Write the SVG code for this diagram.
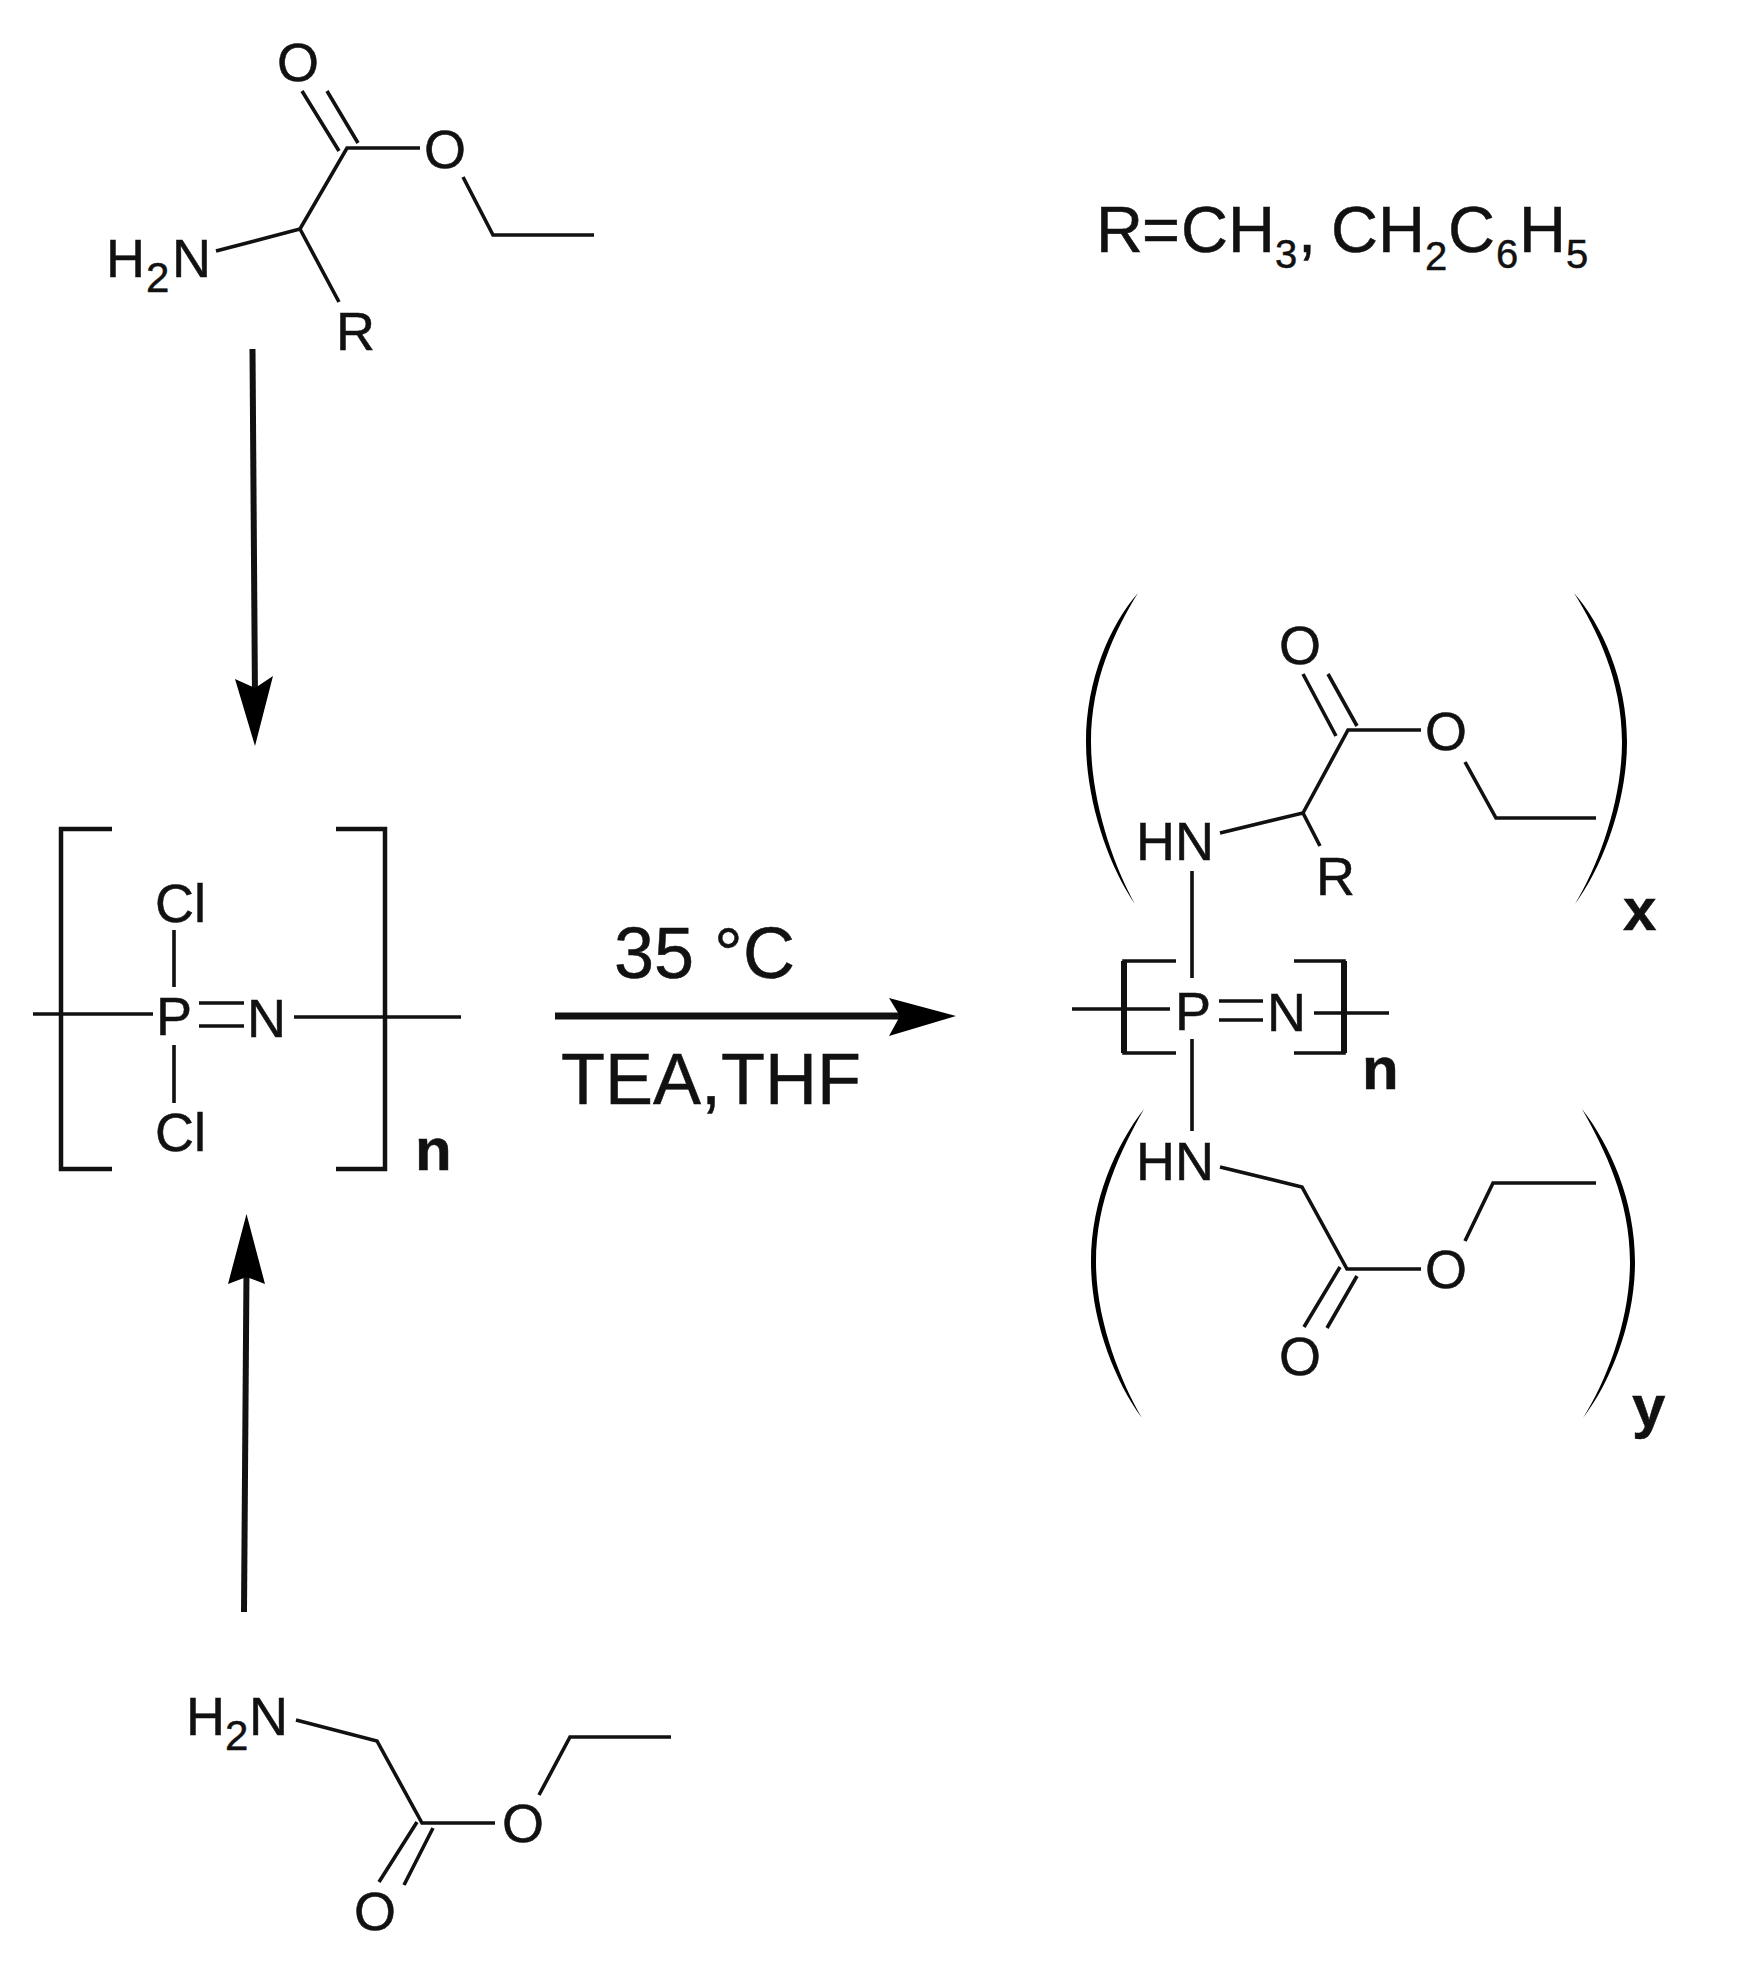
<svg xmlns="http://www.w3.org/2000/svg" width="1739" height="1975" viewBox="0 0 1739 1975">
<style>
text{font-family:"Liberation Sans",Arial,sans-serif;fill:#111;stroke:#111;stroke-width:.5px}
.a{font-size:54px}
.s{font-size:42px}
.t{font-size:72px}
.f{font-size:65px}
.fs{font-size:40px}
.b{font-size:60px;font-weight:700}
.m{text-anchor:middle}
.l{fill:none;stroke:#111;stroke-width:3.6}
.th{stroke-width:4.5}
.tk{stroke-width:6}
.w{stroke-width:6}
.hz{stroke-width:7}
.h{fill:#000;stroke:none}
</style>
<rect width="1739" height="1975" fill="#fff"/>
<g id="connectors">
<path class="l w" d="M252.500 349L255 700"/>
<path class="h" d="M255 746L235 679L255 688L273 676Z"/>
<path class="l w" d="M244 1612L246.500 1270"/>
<path class="h" d="M246.500 1214L228 1284L246.500 1277L265 1284Z"/>
<path class="l hz" d="M555 1016H900"/>
<path class="h" d="M956 1016L889 998L900 1016L889 1036Z"/>
</g>
<g id="reactant-top">
<path class="l" d="M302 91L339 151M327 91L358 143M420 148H347L300 229L216 251M300 229L339 302M463 177L493 235H594"/>
<text class="a m" x="298" y="81">O</text>
<text class="a m" x="445" y="168">O</text>
<text class="a" x="106" y="277">H</text>
<text class="s" x="146" y="292">2</text>
<text class="a" x="172" y="277">N</text>
<text class="a" x="336" y="350">R</text>
</g>
<g id="formula-note">
<text class="f" y="252"><tspan x="1096">R</tspan><tspan x="1142">=</tspan><tspan x="1181">C</tspan><tspan x="1228">H</tspan><tspan x="1275" y="268" class="fs">3</tspan><tspan x="1298" y="252">,</tspan><tspan x="1331">C</tspan><tspan x="1378">H</tspan><tspan x="1425" y="270" class="fs">2</tspan><tspan x="1448" y="252">C</tspan><tspan x="1496" y="268" class="fs">6</tspan><tspan x="1519" y="252">H</tspan><tspan x="1566" y="268" class="fs">5</tspan></text>
</g>
<g id="polymer-precursor">
<path class="l th" d="M112 829H61V1169H112M336 829H385V1169H336"/>
<path class="l" d="M33 1014H153M294 1017H461M174 930V987M174 1045V1103M199 1003H244M199 1026H244"/>
<text class="a" x="155" y="922">Cl</text>
<text class="a" x="155" y="1151">Cl</text>
<text class="a" x="156" y="1035">P</text>
<text class="a" x="247" y="1037">N</text>
<text class="b" x="415" y="1170">n</text>
</g>
<g id="conditions">
<text class="t" x="614" y="978">35 °C</text>
<text class="t" x="561" y="1104">TEA,THF</text>
</g>
<g id="product">
<path class="h" d="M1138 593C1110 625 1086 680 1086 742C1086 800 1108 865 1135 904C1113 865 1091 800 1091 742C1091 680 1115 630 1138 593Z"/>
<path class="h" d="M1574 593C1602 625 1627 680 1627 742C1627 800 1604 865 1575 904C1599 865 1622 800 1622 742C1622 680 1597 630 1574 593Z"/>
<path class="h" d="M1144 1109C1116 1145 1091 1200 1091 1262C1091 1320 1114 1380 1142 1418C1120 1380 1096 1320 1096 1262C1096 1200 1121 1150 1144 1109Z"/>
<path class="h" d="M1582 1109C1610 1145 1635 1200 1635 1262C1635 1320 1612 1380 1583 1418C1607 1380 1630 1320 1630 1262C1630 1200 1605 1150 1582 1109Z"/>
<path class="l" d="M1303 674L1336 736M1328 674L1357 726M1421 730H1348L1303 813L1220 833M1303 813L1320 846M1465 762L1496 818H1596"/>
<path class="l" d="M1220 1167L1302 1187L1347 1269H1421M1340 1267L1304 1327M1357 1276L1327 1328M1465 1241L1493 1183H1596"/>
<path class="l" d="M1192 871V978M1192 1039V1131M1072 1009H1170M1314 1013H1389M1219 1001H1263M1219 1020H1263"/>
<path class="l" d="M1176 961H1124V1053H1176M1294 961H1344V1053H1294"/>
<path class="l tk" d="M1124 961V1053M1344 961V1053"/>
<text class="a m" x="1300" y="664">O</text>
<text class="a m" x="1446" y="750">O</text>
<text class="a" x="1136" y="860">HN</text>
<text class="a" x="1316" y="895">R</text>
<text class="a" x="1175" y="1030">P</text>
<text class="a" x="1267" y="1031">N</text>
<text class="b" x="1362" y="1089">n</text>
<text class="b" x="1623" y="930">x</text>
<text class="a" x="1136" y="1180">HN</text>
<text class="a m" x="1446" y="1288">O</text>
<text class="a m" x="1300" y="1375">O</text>
<text class="b" x="1632" y="1427">y</text>
</g>
<g id="reactant-bottom">
<path class="l" d="M296 1720L377 1741L422 1823H495M417 1822L379 1882M433 1828L404 1885M539 1795L570 1737H671"/>
<text class="a" x="186" y="1735">H</text>
<text class="s" x="225" y="1750">2</text>
<text class="a" x="249" y="1735">N</text>
<text class="a m" x="523" y="1842">O</text>
<text class="a m" x="375" y="1930">O</text>
</g>
</svg>
